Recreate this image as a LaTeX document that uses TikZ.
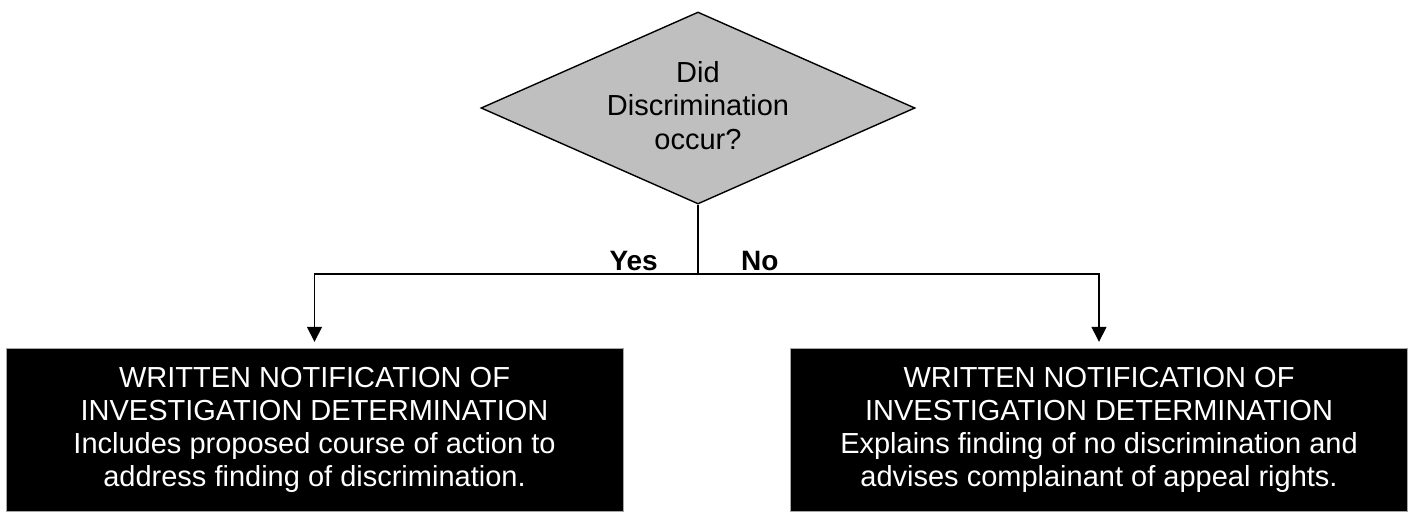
\documentclass[tikz,border=0pt]{standalone}
\usepackage{fontspec}
\setmainfont{Liberation Sans}
\usetikzlibrary{shapes.geometric,arrows.meta}

\begin{document}
\begin{tikzpicture}[x=1pt,y=-1pt,
	decision/.style={shape=diamond,draw=black,line width=1.4pt,fill=black!25,inner sep=0pt,aspect=2.26,minimum width=434pt,minimum height=192pt,align=center,text depth=6pt,font=\fontsize{29}{33.5}\selectfont},
	outcome/.style={shape=rectangle,draw=black!35,fill=black,text=white,minimum width=617pt,minimum height=163pt,align=center,font=\fontsize{29}{33}\selectfont},
	answer/.style={font=\bfseries\fontsize{28}{32}\selectfont,inner sep=0pt},
	flow/.style={-{Triangle[length=15pt,width=15pt]},line width=1.5pt,shorten >=6pt}]
	
	\useasboundingbox (0,0) rectangle (1414,512);
	
	\node[decision] (q) at (698, 108) {Did\\Discrimination\\occur?};
	\node[outcome] (yes) at (314.5, 429.5) {WRITTEN NOTIFICATION OF\\INVESTIGATION DETERMINATION\\Includes proposed course of action to\\address finding of discrimination.};
	\node[outcome] (no) at (1099, 429.5) {WRITTEN NOTIFICATION OF\\INVESTIGATION DETERMINATION\\Explains finding of no discrimination and\\advises complainant of appeal rights.};
	\coordinate (split) at (698, 274);
	
	\node[answer, anchor=base east] (ylab) at (658, 270) {Yes};
	\node[answer, anchor=base west] (nlab) at (741, 270) {No};
	
	\draw[line width=1.5pt] (q.south) -- (split);
	\draw[flow] (split) -| (yes.north);
	\draw[flow] (split) -| (no.north);
	
\end{tikzpicture}
\end{document}
